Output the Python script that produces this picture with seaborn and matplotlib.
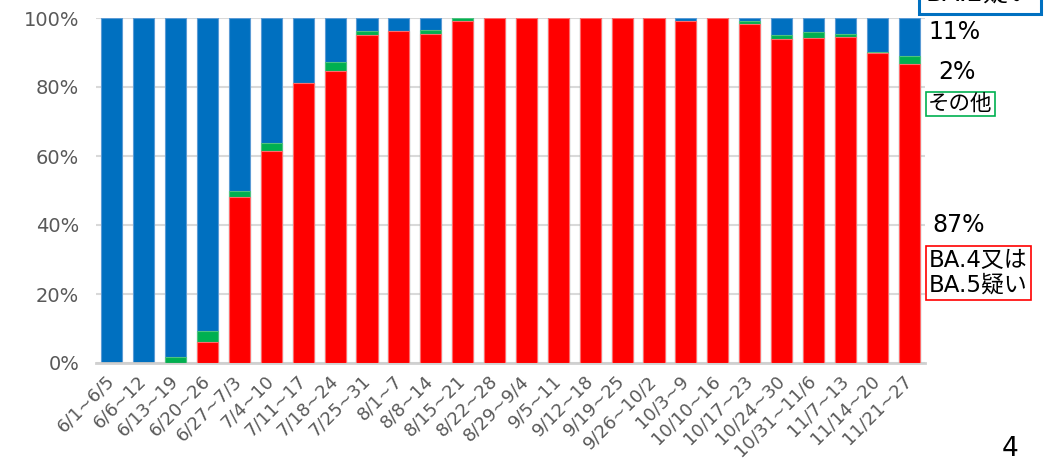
import matplotlib
matplotlib.use("Agg")
import matplotlib.pyplot as plt
import seaborn as sns
import numpy as np
import pandas as pd

weeks = ["6/1~6/5", "6/6~12", "6/13~19", "6/20~26", "6/27~7/3", "7/4~10",
         "7/11~17", "7/18~24", "7/25~31", "8/1~7", "8/8~14", "8/15~21",
         "8/22~28", "8/29~9/4", "9/5~11", "9/12~18", "9/19~25", "9/26~10/2",
         "10/3~9", "10/10~16", "10/17~23", "10/24~30", "10/31~11/6",
         "11/7~13", "11/14~20", "11/21~27"]

# share of each lineage per week (%)
ba45 = [0, 0, 0, 6.2, 48.2, 61.5, 81.1, 84.7, 95.0, 96.1, 95.5, 99.2,
        100, 100, 100, 100, 100, 100, 99.0, 100, 98.4, 93.9, 94.3, 94.5, 89.8, 86.8]
other = [0, 0, 1.8, 3.1, 1.8, 2.2, 0, 2.5, 1.1, 0, 1.0, 0.8,
         0, 0, 0, 0, 0, 0, 0, 0, 0.8, 1.2, 1.5, 0.9, 0.3, 2.1]
ba2 = [100, 100, 98.2, 90.7, 50.0, 36.3, 18.9, 12.8, 3.9, 3.9, 3.5, 0,
       0, 0, 0, 0, 0, 0, 1.0, 0, 0.8, 4.9, 4.2, 4.6, 9.9, 11.1]

yticks = [0, 20, 40, 60, 80, 100]

BLUE, RED, GREEN = "#0070C0", "#FF0000", "#00B050"

sns.set_theme(style="white")
plt.rcParams["font.family"] = ["DejaVu Sans", "Noto Sans CJK JP"]

df = pd.DataFrame({"week": weeks, "ba45": ba45, "other": other, "ba2": ba2})
df["lvl_other"] = df["ba45"] + df["other"]
df["lvl_ba2"] = df["lvl_other"] + df["ba2"]

W, H = 1049, 462
fig = plt.figure(figsize=(W / 100, H / 100), dpi=100)
ax = fig.add_axes([96 / W, 1 - 363 / H, (925 - 96) / W, (363 - 18) / H])

# stacked bars drawn as overlapping cumulative totals
sns.barplot(data=df, x="week", y="lvl_ba2", color=BLUE, saturation=1,
            width=0.66, edgecolor="#5b9bd5", linewidth=0.8, ax=ax, zorder=2)
sns.barplot(data=df, x="week", y="lvl_other", color=GREEN, saturation=1,
            width=0.66, edgecolor="#4fc27f", linewidth=0.8, ax=ax, zorder=3)
sns.barplot(data=df, x="week", y="ba45", color=RED, saturation=1,
            width=0.66, edgecolor="#ff6b6b", linewidth=0.8, ax=ax, zorder=4)

ax.set_xlim(-0.5, len(weeks) - 0.5)
ax.set_ylim(0, 100)
ax.set_yticks(yticks)
ax.set_yticklabels([f"{v}%" for v in yticks], fontsize=14, color="#595959")
ax.set_xlabel("")
ax.set_ylabel("")
ax.yaxis.grid(True, color="#d9d9d9", linewidth=1.5, zorder=0)
ax.set_axisbelow(True)
for side in ["top", "right", "left"]:
    ax.spines[side].set_visible(False)
ax.spines["bottom"].set_color("#d0d0d0")
ax.spines["bottom"].set_linewidth(2)
ax.tick_params(axis="y", length=6, color="#d9d9d9", width=1.5, pad=6)
ax.tick_params(axis="x", length=0, pad=11)
ax.set_xticks(range(len(weeks)))
ax.set_xticklabels(weeks, rotation=45, ha="right", va="center",
                   rotation_mode="anchor", fontsize=13, color="#595959")

# right-hand labels for the last week
def fx(px):
    return px / W

def fy(py):
    return 1 - py / H

fig.text(fx(928), fy(32), "11%", fontsize=17, color="black", va="center", ha="left")
fig.text(fx(938), fy(72), "2%", fontsize=17, color="black", va="center", ha="left")
fig.text(fx(928), fy(104), "その他", fontsize=15.5, color="black", va="center", ha="left",
         bbox=dict(boxstyle="square,pad=0.1", fc="white", ec=GREEN, lw=1.2))
fig.text(fx(932), fy(225), "87%", fontsize=17, color="black", va="center", ha="left")
fig.text(fx(929), fy(273), "BA.4又は\nBA.5疑い", fontsize=16.5, color="black",
         va="center", ha="left", linespacing=1.1,
         bbox=dict(boxstyle="square,pad=0.15", fc="white", ec=RED, lw=1.2))
fig.text(fx(926), fy(-6), "BA.2疑い", fontsize=18, color="black",
         va="center", ha="left",
         bbox=dict(boxstyle="square,pad=0.3", fc="white", ec=BLUE, lw=2.2))

fig.text(fx(1010), fy(449), "4", fontsize=19, color="black", va="center", ha="center")

fig.savefig("out.png", dpi=100)
